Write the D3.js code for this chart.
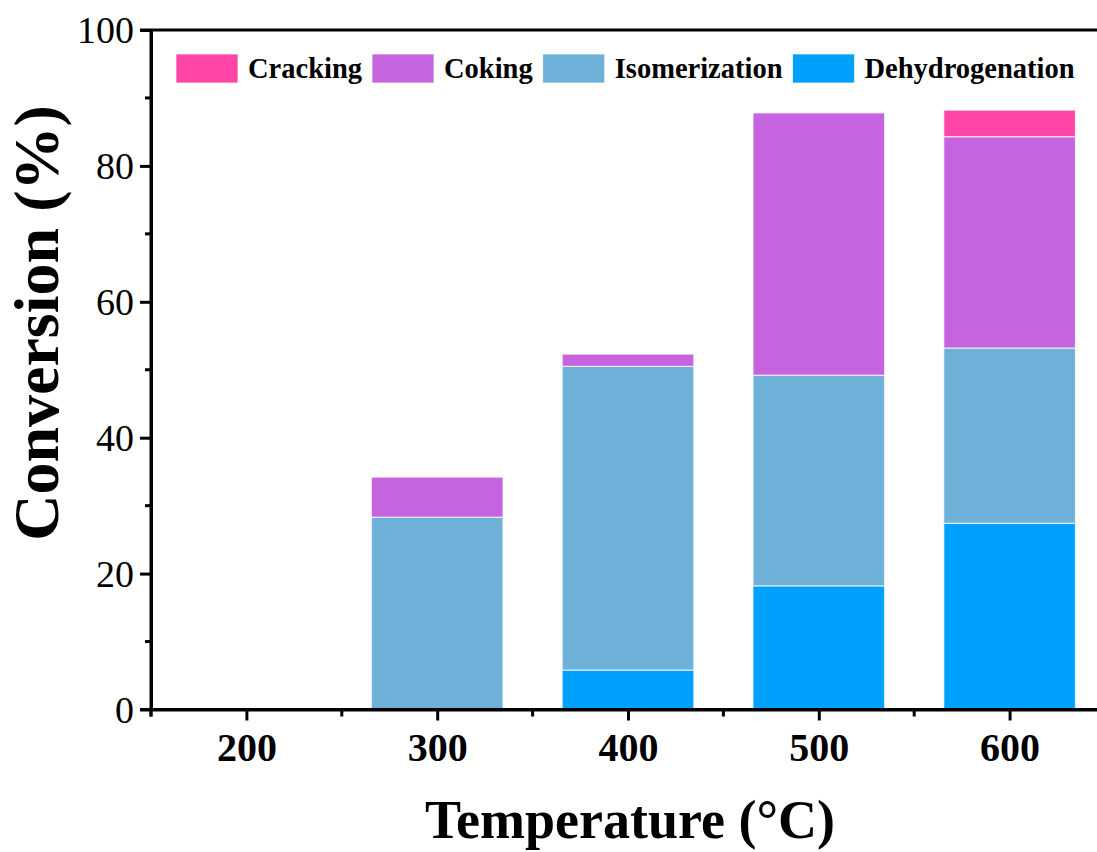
<!DOCTYPE html>
<html>
<head>
<meta charset="utf-8">
<script src="https://cdn.jsdelivr.net/npm/d3@7"></script>
<style>
    body { margin: 0; background: #fff; }
    svg { display: block; font-family: "Liberation Serif", "Times New Roman", serif; }
</style>
</head>
<body>
<svg id="chart" width="1097" height="852"></svg>
<script>
// Data (% conversion by temperature)
let temperatures = [200, 300, 400, 500, 600];
let dehydrogenation = [0, 0, 5.8, 18.2, 27.4];
let isomerization = [0, 28.3, 44.7, 31.0, 25.8];
let coking = [0, 5.9, 1.8, 38.6, 31.1];
let cracking = [0, 0, 0, 0, 3.9];

let seriesNames = ["Dehydrogenation", "Isomerization", "Coking", "Cracking"];
let legendOrder = ["Cracking", "Coking", "Isomerization", "Dehydrogenation"];
let yTicks = [0, 20, 40, 60, 80, 100];

let colors = {
    "Cracking": "#ff45a5",
    "Coking": "#c664e0",
    "Isomerization": "#6db0d8",
    "Dehydrogenation": "#00a0ff"
};

let serif = "'Liberation Serif', 'Times New Roman', serif";

let rows = temperatures.map(function(t, i) {
    return {
        temp: t,
        Dehydrogenation: dehydrogenation[i],
        Isomerization: isomerization[i],
        Coking: coking[i],
        Cracking: cracking[i]
    };
});

let svg = d3.select("#chart");

let plotLeft = 151, plotTop = 30, plotBottom = 709.5, plotRight = 1105;
let barWidth = 69; // in temperature units

let x = d3.scaleLinear().domain([150, 650]).range([plotLeft, plotRight]);
let y = d3.scaleLinear().domain([0, 100]).range([plotBottom, plotTop]);

// Stacked bars
let stacked = d3.stack().keys(seriesNames)(rows);

let layers = svg.selectAll(".layer")
    .data(stacked)
    .enter().append("g")
    .attr("class", "layer")
    .style("fill", function(d) { return colors[d.key]; });

layers.selectAll("rect")
    .data(function(d) { return d.filter(function(p) { return p[1] - p[0] > 0; }); })
    .enter().append("rect")
    .attr("x", function(d) { return x(d.data.temp - barWidth/2); })
    .attr("width", function(d) { return x(d.data.temp + barWidth/2) - x(d.data.temp - barWidth/2); })
    .attr("y", function(d) { return y(d[1]); })
    .attr("height", function(d) { return y(d[0]) - y(d[1]); })
    .style("stroke", "rgba(255,255,255,0.7)")
    .style("stroke-width", 1.2);

// Y axis
let yAxis = d3.axisLeft(y).tickValues(yTicks).tickSize(11).tickPadding(6).tickSizeOuter(0);
let yg = svg.append("g").attr("transform", "translate(" + plotLeft + ",0)").call(yAxis);
yg.attr("font-family", serif);
yg.selectAll("text").style("font-size", "38px").style("fill", "#000")
    .attr("dy", "0.34em");

// Y minor ticks
svg.append("g").selectAll("line")
    .data(d3.range(10, 100, 20))
    .enter().append("line")
    .attr("x1", plotLeft - 6).attr("x2", plotLeft)
    .attr("y1", function(d) { return y(d); })
    .attr("y2", function(d) { return y(d); })
    .style("stroke", "#000").style("stroke-width", 3);

// X axis
let xAxis = d3.axisBottom(x).tickValues(temperatures).tickSize(11).tickPadding(12).tickSizeOuter(0);
let xg = svg.append("g").attr("transform", "translate(0," + plotBottom + ")").call(xAxis);
xg.attr("font-family", serif);
xg.selectAll("text").style("font-size", "40px").style("font-weight", "bold").style("fill", "#000");

// X minor ticks
svg.append("g").selectAll("line")
    .data(d3.range(150, 651, 100))
    .enter().append("line")
    .attr("x1", function(d) { return x(d); })
    .attr("x2", function(d) { return x(d); })
    .attr("y1", plotBottom).attr("y2", plotBottom + 7)
    .style("stroke", "#000").style("stroke-width", 3);

svg.selectAll(".domain").style("stroke", "#000").style("stroke-width", 3);
svg.selectAll(".tick line").style("stroke", "#000").style("stroke-width", 3);

// Axis lines extended past the corner, and the top border
svg.append("line")
    .attr("x1", plotLeft - 11).attr("x2", plotRight)
    .attr("y1", plotBottom).attr("y2", plotBottom)
    .style("stroke", "#000").style("stroke-width", 3);
svg.append("line")
    .attr("x1", plotLeft - 11).attr("x2", plotRight)
    .attr("y1", plotTop).attr("y2", plotTop)
    .style("stroke", "#000").style("stroke-width", 3);
svg.append("line")
    .attr("x1", plotLeft).attr("x2", plotLeft)
    .attr("y1", plotTop).attr("y2", plotBottom + 7)
    .style("stroke", "#000").style("stroke-width", 3);

// Axis titles
svg.append("text")
    .attr("transform", "translate(58,323) rotate(-90)")
    .attr("text-anchor", "middle")
    .style("font-size", "64px")
    .style("font-weight", "bold")
    .text("Conversion (%)");

svg.append("text")
    .attr("x", 630)
    .attr("y", 838)
    .attr("text-anchor", "middle")
    .style("font-size", "54px")
    .style("font-weight", "bold")
    .text("Temperature (\u00B0C)");

// Legend, laid out left to right
let legend = svg.append("g").attr("class", "legend");
let lx = 176;
legendOrder.forEach(function(name) {
    legend.append("rect")
        .attr("x", lx).attr("y", 54)
        .attr("width", 62).attr("height", 29)
        .style("fill", colors[name])
        .style("stroke", "rgba(255,255,255,0.7)");
    let t = legend.append("text")
        .attr("x", lx + 72).attr("y", 78)
        .style("font-size", "28.5px")
        .style("font-weight", "bold")
        .text(name);
    lx = lx + 72 + t.node().getComputedTextLength() + 10;
});
</script>
</body>
</html>
